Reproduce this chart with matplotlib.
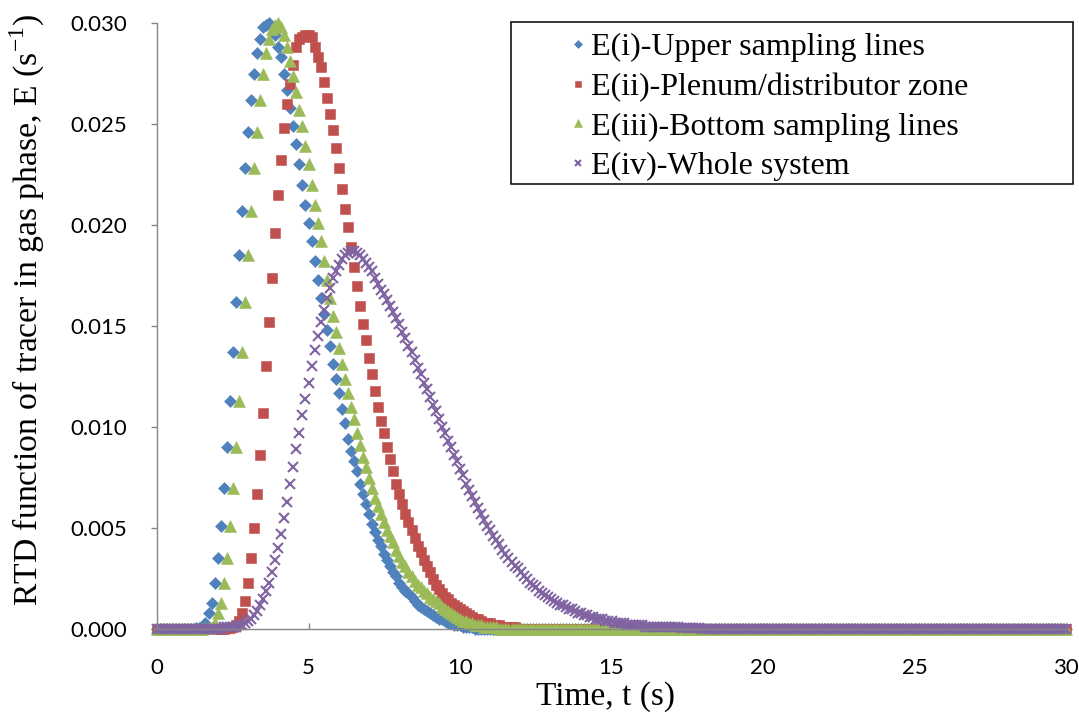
import numpy as np
import matplotlib
matplotlib.use('Agg')
from matplotlib import pyplot as plt
from matplotlib.patches import Rectangle
from matplotlib.ticker import FormatStrFormatter, MultipleLocator

# time grid of the sampled RTD curves (s), step 0.1 s from 0 to 30
dt = 0.1
t = np.round(np.arange(301) * dt, 1)

# E(t) values (s^-1); outside the listed span the curves sit at 0
upper_start = 1.3
upper_E = [0.00003, 0.00006, 0.0001, 0.0003, 0.0008, 0.0013, 0.0023, 0.0035, 0.0051, 0.0070,
           0.0090, 0.0113, 0.0137, 0.0162, 0.0185, 0.0207, 0.0228, 0.0246, 0.0262, 0.0275,
           0.0285, 0.0292, 0.0298, 0.0299, 0.0300, 0.0298, 0.0294, 0.0288, 0.0283, 0.0275,
           0.0267, 0.0258, 0.0249, 0.0240, 0.0230, 0.0220, 0.0210, 0.0201, 0.0192, 0.0182,
           0.0173, 0.0164, 0.0156, 0.0148, 0.0140, 0.0131, 0.0124, 0.0117, 0.0109, 0.0102,
           0.0094, 0.0088, 0.0083, 0.0078, 0.0072, 0.0067, 0.0062, 0.0057, 0.0052, 0.0048,
           0.0044, 0.0041, 0.0037, 0.0034, 0.0031, 0.0028, 0.0026, 0.0023, 0.0021, 0.0019,
           0.0018, 0.0016, 0.0014, 0.0012, 0.0011, 0.0010, 0.0009, 0.0008, 0.0007, 0.0006,
           0.0005, 0.0005, 0.0004, 0.0003, 0.0003, 0.0002, 0.0002, 0.0002, 0.0001, 0.0001,
           0.0001, 0.0001]

plenum_start = 2.3
plenum_E = [0.00003, 0.00005, 0.0001, 0.0002, 0.0004, 0.0008, 0.0014, 0.0023, 0.0035, 0.0050,
            0.0067, 0.0086, 0.0107, 0.0130, 0.0152, 0.0174, 0.0196, 0.0215, 0.0232, 0.0248,
            0.0260, 0.0270, 0.0279, 0.0288, 0.0292, 0.0293, 0.0294, 0.0294, 0.0293, 0.0288,
            0.0283, 0.0278, 0.0271, 0.0263, 0.0255, 0.0247, 0.0238, 0.0228, 0.0218, 0.0208,
            0.0199, 0.0189, 0.0179, 0.0170, 0.0160, 0.0151, 0.0143, 0.0134, 0.0126, 0.0118,
            0.0110, 0.0103, 0.0097, 0.0090, 0.0084, 0.0078, 0.0072, 0.0067, 0.0062, 0.0057,
            0.0053, 0.0049, 0.0045, 0.0041, 0.0038, 0.0034, 0.0031, 0.0028, 0.0025, 0.0022,
            0.0020, 0.0018, 0.0016, 0.0015, 0.0013, 0.0012, 0.0011, 0.0010, 0.0009, 0.0008,
            0.0007, 0.0006, 0.0005, 0.0005, 0.0004, 0.0003, 0.0003, 0.0003, 0.0002, 0.0002,
            0.0002, 0.0001, 0.0001, 0.0001, 0.0001, 0.0001]

bottom_start = 1.6
bottom_E = [0.00003, 0.00006, 0.0001, 0.0003, 0.0008, 0.0013, 0.0023, 0.0035, 0.0051, 0.0070,
            0.0090, 0.0113, 0.0137, 0.0162, 0.0185, 0.0207, 0.0228, 0.0246, 0.0262, 0.0275,
            0.0285, 0.0292, 0.0297, 0.0299, 0.0300, 0.0298, 0.0294, 0.0288, 0.0281, 0.0274,
            0.0266, 0.0257, 0.0249, 0.0239, 0.0230, 0.0220, 0.0210, 0.0201, 0.0192, 0.0182,
            0.0173, 0.0164, 0.0155, 0.0147, 0.0139, 0.0131, 0.0124, 0.0117, 0.0110, 0.0104,
            0.0097, 0.0091, 0.0085, 0.0080, 0.0075, 0.0070, 0.0065, 0.0061, 0.0057, 0.0053,
            0.0049, 0.0046, 0.0043, 0.0039, 0.0036, 0.0033, 0.0031, 0.0028, 0.0026, 0.0024,
            0.0022, 0.0021, 0.0019, 0.0018, 0.0016, 0.0015, 0.0014, 0.0013, 0.0011, 0.0010,
            0.0009, 0.0008, 0.0007, 0.0006, 0.0005, 0.0004, 0.0004, 0.0003, 0.0003, 0.0002,
            0.0002, 0.0002, 0.0001, 0.0001, 0.0001, 0.0001, 0.0001]

whole_start = 2.2
whole_E = [0.0001, 0.0001, 0.0001, 0.0001, 0.0001, 0.0002, 0.0002, 0.0003, 0.0004, 0.0005,
           0.0007, 0.0009, 0.0012, 0.0015, 0.0019, 0.0023, 0.0028, 0.0034, 0.0040, 0.0047,
           0.0055, 0.0063, 0.0072, 0.0080, 0.0089, 0.0097, 0.0106, 0.0114, 0.0122, 0.0130,
           0.0138, 0.0145, 0.0152, 0.0158, 0.0164, 0.0169, 0.0174, 0.0177, 0.0180, 0.0183,
           0.0185, 0.0186, 0.0187, 0.0187, 0.0186, 0.0185, 0.0183, 0.0181, 0.0179, 0.0177,
           0.0174, 0.0171, 0.0168, 0.0166, 0.0163, 0.0160, 0.0157, 0.0154, 0.0151, 0.0147,
           0.0144, 0.0140, 0.0137, 0.0133, 0.0129, 0.0126, 0.0122, 0.0119, 0.0115, 0.0111,
           0.0108, 0.0104, 0.0100, 0.0097, 0.0093, 0.0090, 0.0086, 0.0083, 0.0079, 0.0076,
           0.0072, 0.0069, 0.0066, 0.0063, 0.0060, 0.0057, 0.0054, 0.0051, 0.0049, 0.0046,
           0.0044, 0.0042, 0.0039, 0.0037, 0.0035, 0.0033, 0.0031, 0.0030, 0.0028, 0.0026,
           0.0025, 0.0023, 0.0022, 0.0021, 0.0019, 0.0018, 0.0017, 0.0016, 0.0015, 0.0014,
           0.0013, 0.0012, 0.0012, 0.0011, 0.0010, 0.0010, 0.0009, 0.0008, 0.0008, 0.0007,
           0.0007, 0.0006, 0.0006, 0.0005, 0.0005, 0.0005, 0.0004, 0.0004, 0.0004, 0.0003,
           0.0003, 0.0003, 0.0003, 0.0002, 0.0002, 0.0002, 0.0002, 0.0002, 0.0002, 0.0001,
           0.0001, 0.0001, 0.0001, 0.0001, 0.0001, 0.0001, 0.0001, 0.0001, 0.0001, 0.0001,
           0.0001, 0.00005, 0.00005, 0.00005, 0.00005, 0.00005, 0.00005, 0.00005]

labels = ['E(i)-Upper sampling lines', 'E(ii)-Plenum/distributor zone',
          'E(iii)-Bottom sampling lines', 'E(iv)-Whole system']

xticks = [0, 5, 10, 15, 20, 25, 30]


def full_curve(start, vals):
    # pad the read values with zeros over the whole 0-30 s grid
    e = np.zeros(len(t))
    i0 = int(round(start / dt))
    e[i0:i0 + len(vals)] = vals
    return e


series = [
    (full_curve(upper_start, upper_E), 'D', 6.3, '#4F81BD'),
    (full_curve(plenum_start, plenum_E), 's', 6.6, '#C0504D'),
    (full_curve(bottom_start, bottom_E), '^', 8.4, '#9BBB59'),
    (full_curve(whole_start, whole_E), 'x', 7.0, '#8064A2'),
]

plt.rcParams['mathtext.fontset'] = 'custom'
plt.rcParams['mathtext.rm'] = 'Liberation Serif'

W, H = 1079, 712
fig = plt.figure(figsize=(W / 100, H / 100), dpi=100)
ax = fig.add_axes([157 / W, 1 - 629 / H, (1066 - 157) / W, (629 - 23) / H])

for (e, m, ms, c), lab in zip(series, labels):
    if m == 'x':
        ax.plot(t, e, linestyle='none', marker=m, ms=ms, mew=1.5, color=c,
                label=lab, clip_on=False)
    else:
        ax.plot(t, e, linestyle='none', marker=m, ms=ms, mew=0.4, mec=c, color=c,
                label=lab, clip_on=False)

ax.set_xlim(0, 30)
ax.set_ylim(0, 0.030)
ax.set_xticks(xticks)
ax.yaxis.set_major_locator(MultipleLocator(0.005))
ax.yaxis.set_major_formatter(FormatStrFormatter('%.3f'))

for s in ['top', 'right']:
    ax.spines[s].set_visible(False)
for s in ['left', 'bottom']:
    ax.spines[s].set_color('#868686')
    ax.spines[s].set_linewidth(1.0)

ax.tick_params(axis='y', direction='out', length=4.5, width=1.0, color='#868686',
               labelsize=16, pad=17)
ax.tick_params(axis='x', direction='in', length=4.5, width=1.0, color='#868686',
               labelsize=16, pad=21)
for lb in ax.get_xticklabels() + ax.get_yticklabels():
    lb.set_fontfamily(['Lato', 'DejaVu Sans'])

fig.text(605 / W, 1 - 697 / H, 'Time, t (s)', ha='center', va='center',
         fontsize=24, family='Liberation Serif')
fig.text(27 / W, 1 - 310 / H, 'RTD function of tracer in gas phase, E (s$^{\\mathregular{-1}}$)',
         ha='center', va='center', rotation=90, fontsize=24.3, family='Liberation Serif')

# legend with its own black frame
fig.patches.append(Rectangle((511 / W, 1 - 184 / H), (1073 - 511) / W, (184 - 22) / H,
                             transform=fig.transFigure, fill=False, edgecolor='black',
                             linewidth=1.1, zorder=5))
leg = ax.legend(loc='upper left', bbox_to_anchor=(562 / W, 1 - 33 / H),
                bbox_transform=fig.transFigure, frameon=False, borderpad=0,
                borderaxespad=0, handlelength=1.0, handletextpad=-0.1,
                labelspacing=0.32, markerscale=0.7,
                prop={'family': 'Liberation Serif', 'size': 23})

plt.savefig('out.png', dpi=100)
